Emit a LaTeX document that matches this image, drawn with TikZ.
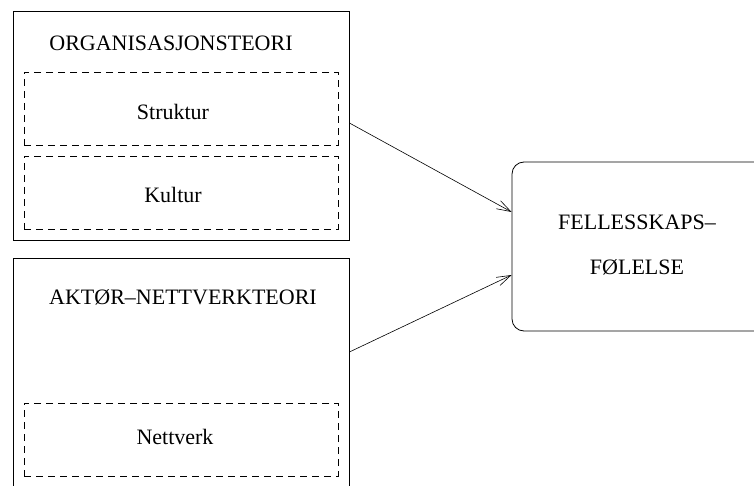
\documentclass[tikz,border=0pt]{standalone}
\usepackage{fontspec}
\setmainfont{Liberation Serif}
\usetikzlibrary{arrows.meta}
\tikzset{
    theory/.style={draw, line width=0.8pt, minimum width=336pt},
    part/.style={draw, dash pattern=on 7pt off 5pt, line width=0.7pt,
        minimum width=314pt, minimum height=73pt},
    outcome/.style={draw, rounded corners=12pt, line width=0.8pt,
        minimum width=270pt, minimum height=169pt}
}

\begin{document}
\begin{tikzpicture}[x=1pt, y=-1pt, font=\fontsize{22}{26}\selectfont,
        >={Straight Barb[length=14pt,width=9pt]}]
        \clip (0,0) rectangle (754,486);

        % left side
        \draw (181,125.5) node[theory, minimum height=229pt](org){};
        \draw (171,43)    node(orgtitle){ORGANISASJONSTEORI};
        \draw (181,108.5) node[part](struk){};
        \draw (173,112)   node(struktxt){Struktur};
        \draw (181,192.5) node[part](kult){};
        \draw (173,195)   node(kulttxt){Kultur};

        \draw (181,379)   node[theory, minimum height=242pt](akt){};
        \draw (183,297)   node(akttitle){AKTØR--NETTVERKTEORI};
        \draw (181,439.5) node[part](nett){};
        \draw (175,437)   node(netttxt){Nettverk};

        % right side
        \draw (647,246.5) node[outcome](felles){};
        \draw (637,245.5) node[align=center](fellestxt){FELLESSKAPS--\\[19pt]FØLELSE};

        \draw[->, line width=0.6pt] ([yshift=2.5pt]org.east) to ([yshift=34.5pt]felles.west);
        \draw[->, line width=0.6pt] ([yshift=27pt]akt.east) to ([yshift=-28.5pt]felles.west);
    \end{tikzpicture}
\end{document}
